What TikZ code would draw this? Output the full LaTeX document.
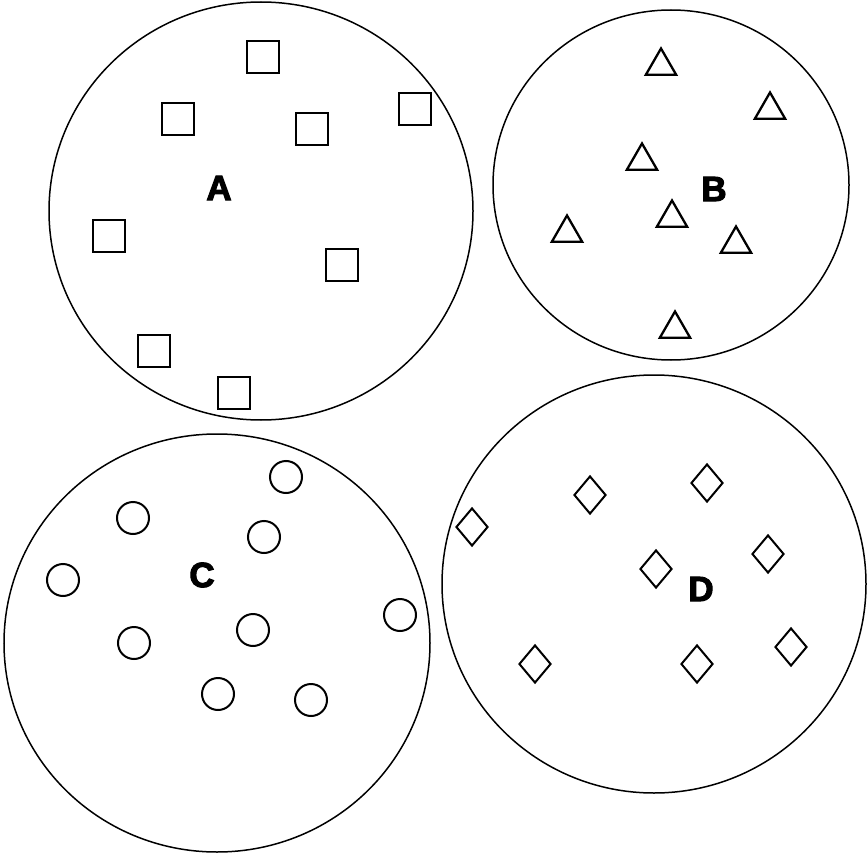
\documentclass[tikz,border=0pt]{standalone}
\usepackage{fontspec}
\setmainfont{Liberation Sans}
\newfontfamily\lblfont[FakeBold=3]{Liberation Sans}
\usetikzlibrary{shapes.geometric}

\begin{document}
\begin{tikzpicture}[x=1pt,y=-1pt,
  sq/.style={draw,line width=2.3pt,rectangle,minimum size=32pt,inner sep=0pt},
  tri/.style={draw,line width=2.3pt,regular polygon,regular polygon sides=3,minimum size=35pt,inner sep=0pt},
  ring/.style={draw,line width=2pt,circle,minimum size=32pt,inner sep=0pt},
  dia/.style={draw,line width=2pt,diamond,minimum width=32pt,minimum height=38pt,inner sep=0pt},
  lbl/.style={font=\lblfont\fontsize{35}{35}\selectfont\bfseries,inner sep=0pt}]
\useasboundingbox (0,0) rectangle (867,853);
% the four sets
\draw[line width=1.5pt] (261,211) ellipse [x radius=212, y radius=209];
\draw[line width=1.5pt] (671,185) ellipse [x radius=178, y radius=175];
\draw[line width=1.5pt] (217,643) ellipse [x radius=213, y radius=209];
\draw[line width=1.5pt] (654,584) ellipse [x radius=212, y radius=209];
% set A
\foreach \x/\y [count=\i] in {263/57,178/119,312/129,415/109,109/236,342/265,154/351,234/393}
  \node[sq] (a\i) at (\x,\y) {};
\node[lbl] (labA) at (219,188) {A};
% set B
\foreach \x/\y [count=\i] in {661/66,770/110,642/161,672/218,567/233,736/244,675/329}
  \node[tri] (b\i) at (\x,\y) {};
\node[lbl] (labB) at (714,189) {B};
% set C
\foreach \x/\y [count=\i] in {286/477,133/518,264/537,63/580,400/615,253/630,134/643,218/694,311/700}
  \node[ring] (c\i) at (\x,\y) {};
\node[lbl] (labC) at (202,575) {C};
% set D
\foreach \x/\y [count=\i] in {590/495,707/483,472/527,656/569,768/554,535/664,697/664,791/647}
  \node[dia] (d\i) at (\x,\y) {};
\node[lbl] (labD) at (701,589) {D};
\end{tikzpicture}
\end{document}
